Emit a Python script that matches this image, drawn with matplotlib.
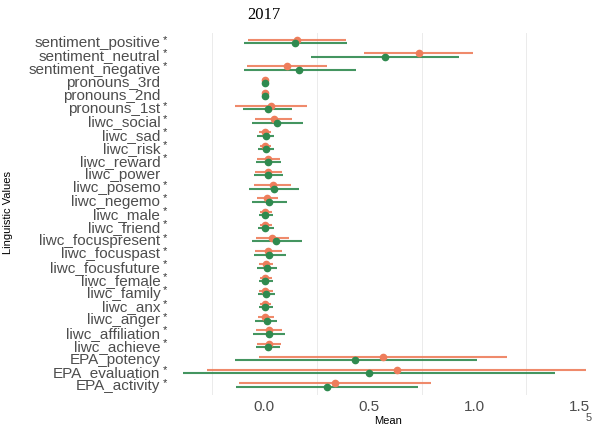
import matplotlib
matplotlib.use("Agg")
import matplotlib.pyplot as plt
import numpy as np

plt.rcParams['font.family'] = ['Liberation Sans', 'DejaVu Sans']

# ---------- Data ----------
features = ["sentiment_positive", "sentiment_neutral", "sentiment_negative",
            "pronouns_3rd", "pronouns_2nd", "pronouns_1st",
            "liwc_social", "liwc_sad", "liwc_risk", "liwc_reward", "liwc_power",
            "liwc_posemo", "liwc_negemo", "liwc_male", "liwc_friend",
            "liwc_focuspresent", "liwc_focuspast", "liwc_focusfuture",
            "liwc_female", "liwc_family", "liwc_anx", "liwc_anger",
            "liwc_affiliation", "liwc_achieve",
            "EPA_potency", "EPA_evaluation", "EPA_activity"]
significant = [1, 1, 1, 0, 0, 1, 1, 1, 1, 1, 0, 1, 1, 1, 1, 1, 1, 1,
               1, 1, 1, 1, 1, 1, 0, 1, 1]

red_mean = [0.157, 0.738, 0.110, 0.002, 0.002, 0.033, 0.048, 0.005, 0.004, 0.020, 0.020,
            0.042, 0.014, 0.005, 0.005, 0.038, 0.020, 0.008, 0.004, 0.006, 0.004, 0.005,
            0.024, 0.024, 0.567, 0.633, 0.338]
red_lo = [-0.076, 0.476, -0.081, -0.004, -0.004, -0.138, -0.043, -0.024, -0.020, -0.035, -0.043,
          -0.048, -0.033, -0.020, -0.020, -0.038, -0.043, -0.024, -0.020, -0.024, -0.020, -0.029,
          -0.038, -0.033, -0.024, -0.271, -0.119]
red_hi = [0.390, 0.995, 0.300, 0.008, 0.008, 0.205, 0.133, 0.033, 0.030, 0.075, 0.085,
          0.128, 0.067, 0.038, 0.038, 0.119, 0.085, 0.043, 0.038, 0.043, 0.033, 0.048,
          0.085, 0.080, 1.157, 1.533, 0.795]

green_mean = [0.148, 0.576, 0.167, 0.002, 0.002, 0.019, 0.062, 0.010, 0.008, 0.020, 0.020,
              0.048, 0.024, 0.005, 0.005, 0.057, 0.024, 0.014, 0.005, 0.008, 0.005, 0.014,
              0.024, 0.019, 0.433, 0.500, 0.300]
green_lo = [-0.095, 0.224, -0.095, -0.004, -0.004, -0.100, -0.057, -0.033, -0.030, -0.038, -0.048,
            -0.071, -0.057, -0.024, -0.029, -0.057, -0.048, -0.033, -0.024, -0.029, -0.024, -0.043,
            -0.052, -0.038, -0.138, -0.400, -0.133]
green_hi = [0.395, 0.929, 0.438, 0.008, 0.008, 0.133, 0.186, 0.048, 0.045, 0.080, 0.090,
            0.167, 0.110, 0.043, 0.048, 0.181, 0.105, 0.062, 0.043, 0.052, 0.043, 0.062,
            0.100, 0.076, 1.014, 1.386, 0.733]

red_col = '#EE7D5B'
green_col = '#2F8A4F'

# ---------- Plot ----------
fig = plt.figure(figsize=(5.93, 4.26), dpi=100)
ax = fig.add_axes([0.309, 0.073, 0.691, 0.85])

y = np.arange(len(features))
dodge = 0.13

ax.hlines(y - dodge, red_lo, red_hi, color=red_col, lw=1.5, alpha=0.9, zorder=2)
ax.plot(red_mean, y - dodge, 'o', color=red_col, ms=4.5, zorder=3)
ax.hlines(y + dodge, green_lo, green_hi, color=green_col, lw=1.5, alpha=0.9, zorder=2)
ax.plot(green_mean, y + dodge, 'o', color=green_col, ms=4.5, zorder=4)

ax.set_xlim(-0.386, 1.567)
ax.set_ylim(len(features) - 1 + 0.76, -0.68)

# light vertical grid (only the in-between lines show in the reference)
for gx in [-0.25, 0.25, 0.75, 1.25]:
    ax.axvline(gx, color='#EBEBEB', lw=0.7, zorder=0)

for s in ax.spines.values():
    s.set_visible(False)

ax.set_xticks([0.0, 0.5, 1.0, 1.5])
ax.set_xticklabels(["0.0", "0.5", "1.0", "1.5"])
ax.set_yticks(y)
ax.set_yticklabels(features)
ax.tick_params(axis='both', length=0, labelcolor='#4D4D4D', labelsize=11)
ax.tick_params(axis='y', pad=16.5)
ax.tick_params(axis='x', pad=4)

# significance markers next to the labels
for i, sig in enumerate(significant):
    if sig:
        ax.text(-0.045, i - 0.15, "*", transform=ax.get_yaxis_transform(),
                ha='center', va='center', fontsize=8, color='#333333')

ax.set_xlabel("Mean", fontsize=8, labelpad=1)
fig.text(0.013, 0.5, "Linguistic Values", rotation=90, fontsize=8,
         ha='center', va='center')
fig.text(264 / 593, 1 - 15 / 426, "2017", family='Liberation Serif',
         fontsize=12, ha='center', va='center')
fig.text(0.993, 1 - 418 / 426, "5", fontsize=8, color='#4D4D4D',
         ha='center', va='center')

fig.savefig("out.png", dpi=100)
